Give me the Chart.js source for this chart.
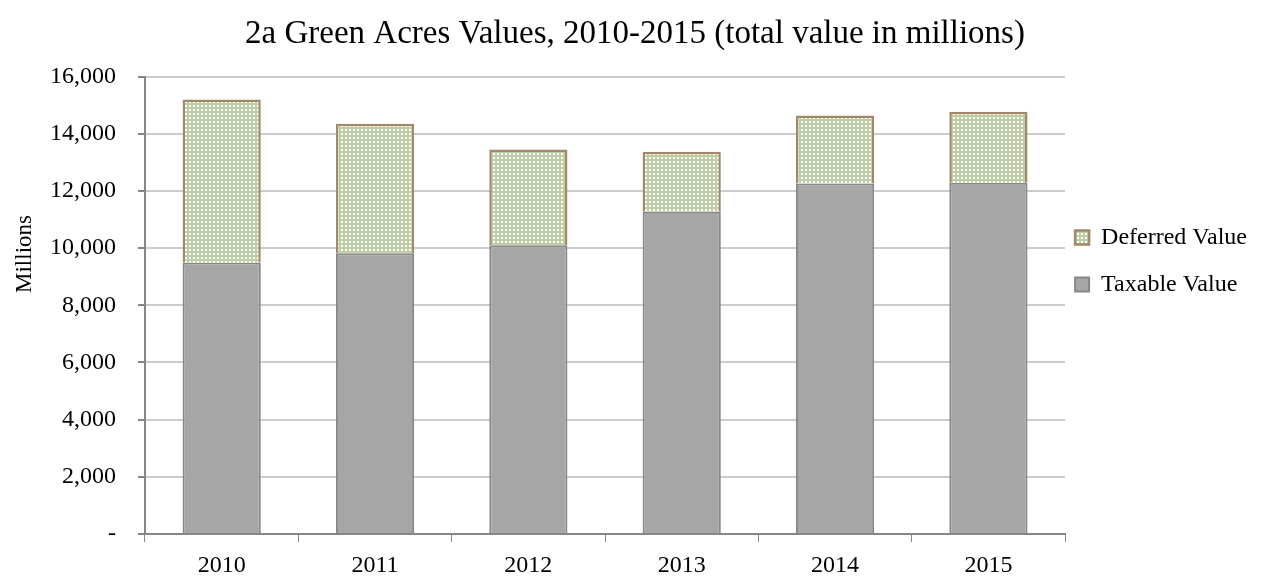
<!DOCTYPE html>
<html lang="en">
<head>
    <meta charset="UTF-8">
    <title>2a Green Acres Values</title>
    <script src="https://cdn.jsdelivr.net/npm/chart.js"></script>
    <style>
        body { margin: 0; background: #fff; }
    </style>
</head>
<body>
    <canvas id="acresChart" width="1265" height="577"></canvas>

    <script>
        // values in millions
        var years = ['2010', '2011', '2012', '2013', '2014', '2015'];
        var taxableValue = [9500, 9820, 10100, 11270, 12260, 12290];
        var deferredValue = [5700, 4530, 3350, 2100, 2380, 2480];
        var yTicks = [0, 2000, 4000, 6000, 8000, 10000, 12000, 14000, 16000];

        var serif = '"Liberation Serif", "DejaVu Serif", serif';

        // light green dotted fill for the deferred part
        function dotPattern() {
            var c = document.createElement('canvas');
            c.width = 4;
            c.height = 4;
            var g = c.getContext('2d');
            g.fillStyle = '#bdcda4';
            g.fillRect(0, 0, 4, 4);
            g.fillStyle = '#ffffff';
            g.fillRect(1, 1, 2, 2);
            return g.createPattern(c, 'repeat');
        }

        // "Millions" sits a bit above the middle of the axis,
        // and the legend hugs the plot a little closer than chart.js puts it
        var tweaks = {
            id: 'tweaks',
            afterLayout: function(chart) {
                var lg = chart.legend;
                var dx = (chart.chartArea.right + 10) - (lg.left + 23);
                lg.left += dx;
                lg.right += dx;
            },
            afterDraw: function(chart) {
                var ctx = chart.ctx;
                ctx.save();
                ctx.translate(25, 254);
                ctx.rotate(-Math.PI / 2);
                ctx.font = '23px ' + serif;
                ctx.fillStyle = '#000';
                ctx.textAlign = 'center';
                ctx.textBaseline = 'middle';
                ctx.fillText('Millions', 0, 0);
                ctx.restore();
            }
        };

        var ctx = document.getElementById('acresChart').getContext('2d');
        var myChart = new Chart(ctx, {
            type: 'bar',
            data: {
                labels: years,
                datasets: [{
                    label: 'Taxable Value',
                    data: taxableValue,
                    backgroundColor: '#a6a6a6',
                    borderColor: '#878787',
                    borderWidth: 2,
                    categoryPercentage: 1,
                    barPercentage: 0.51
                }, {
                    label: 'Deferred Value',
                    data: deferredValue,
                    backgroundColor: dotPattern(),
                    borderColor: '#a3896a',
                    borderWidth: 2.5,
                    categoryPercentage: 1,
                    barPercentage: 0.51
                }]
            },
            options: {
                responsive: false,
                animation: false,
                layout: {
                    padding: { left: 0, right: -5, top: 0, bottom: 0 }
                },
                plugins: {
                    title: {
                        display: true,
                        text: '2a Green Acres Values, 2010-2015 (total value in millions)',
                        color: '#000',
                        font: { family: serif, size: 33, weight: 'normal' },
                        padding: { top: 15, bottom: 22 }
                    },
                    legend: {
                        position: 'right',
                        align: 'start',
                        reverse: true,
                        title: { display: true, text: '', padding: { top: 188, bottom: 0 } },
                        labels: {
                            color: '#000',
                            font: { family: serif, size: 24 },
                            boxWidth: 14,
                            boxHeight: 14,
                            padding: 23
                        }
                    },
                    tooltip: { enabled: false }
                },
                scales: {
                    x: {
                        stacked: true,
                        afterFit: function(scale) { scale.height = 43; },
                        grid: {
                            offset: true,
                            drawOnChartArea: false,
                            color: '#868686',
                            tickLength: 8
                        },
                        border: { color: '#868686', width: 2 },
                        ticks: {
                            color: '#000',
                            font: { family: serif, size: 24 },
                            padding: 9
                        }
                    },
                    y: {
                        stacked: true,
                        min: 0,
                        max: 16000,
                        afterFit: function(scale) { scale.width = 145; },
                        afterBuildTicks: function(axis) {
                            axis.ticks = yTicks.map(function(v) { return { value: v }; });
                        },
                        grid: {
                            color: '#cccccc',
                            lineWidth: 2,
                            tickColor: '#868686',
                            tickLength: 7
                        },
                        border: { color: '#868686', width: 2 },
                        ticks: {
                            color: '#000',
                            font: { family: serif, size: 24 },
                            padding: 22,
                            callback: function(v) {
                                return v === 0 ? '-' : v.toLocaleString('en-US');
                            }
                        }
                    }
                }
            },
            plugins: [tweaks]
        });
    </script>
</body>
</html>
